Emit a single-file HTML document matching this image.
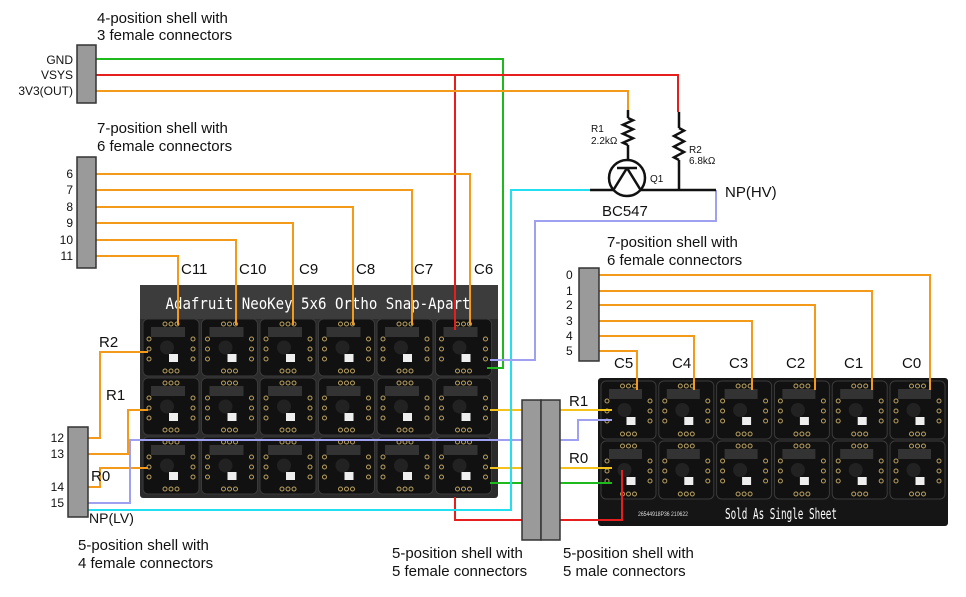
<!DOCTYPE html>
<html><head><meta charset="utf-8"><style>
html,body{margin:0;padding:0;background:#fff;}
svg{display:block;font-family:"Liberation Sans",sans-serif;}
</style></head><body>
<svg id="s" width="966" height="597" viewBox="0 0 966 597" xmlns="http://www.w3.org/2000/svg">
<g id="boards"></g>
<g id="wires" fill="none" stroke-width="2"></g>
<g id="parts"></g>
<g id="labels" font-size="15" fill="#111"></g>
</svg>
<script>
const NS="http://www.w3.org/2000/svg";
function mk(parent,tag,attrs,name,text){const e=document.createElementNS(NS,tag);for(const k in attrs)e.setAttribute(k,attrs[k]);


if(text!==undefined)e.textContent=text;parent.appendChild(e);return e;}
const B=document.getElementById('boards'),W=document.getElementById('wires'),P=document.getElementById('parts'),L=document.getElementById('labels');

// boards
mk(B,'rect',{x:140,y:285,width:358,height:213,fill:'#2b2b2b',rx:3},'left-board');
mk(B,'rect',{x:140,y:285,width:358,height:34,fill:'#3c3c3c'},'left-board-header');
mk(B,'text',{x:318,y:309,'font-size':16,fill:'#fff','text-anchor':'middle','font-family':'DejaVu Sans Mono, monospace',textLength:305,lengthAdjust:'spacingAndGlyphs'},'left-board-title','Adafruit NeoKey 5x6 Ortho Snap-Apart');
mk(B,'rect',{x:598,y:378,width:350,height:148,fill:'#151515',rx:3},'right-board');
mk(B,'text',{x:725,y:519,'font-size':15,fill:'#fff','font-family':'DejaVu Sans Mono, monospace',textLength:112,lengthAdjust:'spacingAndGlyphs'},'right-board-title','Sold As Single Sheet');
mk(B,'text',{x:638,y:516,'font-size':6,fill:'#ddd',textLength:50,lengthAdjust:'spacingAndGlyphs'},'right-board-serial','26544918P36 210622');
function key(x,y,w,h,name){
  const g=mk(B,'g',{},name);
  mk(g,'rect',{x:x,y:y,width:w,height:h,rx:5,fill:'#111',stroke:'#3a3a3a'},name+'-body');
  mk(g,'rect',{x:x+8,y:y+8,width:w-22,height:10,fill:'#333'},name+'-switch');
  mk(g,'circle',{cx:x+w/2-4,cy:y+h/2,r:7,fill:'#222'},name+'-hole');
  mk(g,'rect',{x:x+w/2-2,y:y+h-22,width:9,height:8,fill:'#eee'},name+'-led');
  for(let i=0;i<3;i++){mk(g,'circle',{cx:x+w/2-6+i*6,cy:y+5,r:2,fill:'none',stroke:'#b8a060','stroke-width':1},name+'-pad');
   mk(g,'circle',{cx:x+w/2-6+i*6,cy:y+h-5,r:2,fill:'none',stroke:'#b8a060','stroke-width':1},name+'-pad');}
  for(let i=0;i<3;i++){mk(g,'circle',{cx:x+6,cy:y+20+i*10,r:2,fill:'none',stroke:'#b8a060','stroke-width':1},name+'-pad');
   mk(g,'circle',{cx:x+w-6,cy:y+20+i*10,r:2,fill:'none',stroke:'#b8a060','stroke-width':1},name+'-pad');}
}
for(let r=0;r<3;r++)for(let c=0;c<6;c++)key(143+c*58.5,319+r*59,56,57,'left-key-r'+r+'c'+c);
for(let r=0;r<2;r++)for(let c=0;c<6;c++)key(601+c*57.8,381+r*60,55,58,'right-key-r'+r+'c'+c);

// wires
const wires=[
 ['gnd-wire','#1db91d','M96 59H503V368H487'],
 ['vsys-wire','#e61e1e','M96 75H678V112'],
 ['vsys-drop-wire','#e61e1e','M455 75V330'],
 ['3v3-wire','#f39a1a','M96 91H628V112'],
 ['col6-wire','#f39a1a','M96 174H470V325'],
 ['col7-wire','#f39a1a','M96 190H412V325'],
 ['col8-wire','#f39a1a','M96 207H353V325'],
 ['col9-wire','#f39a1a','M96 223H293V325'],
 ['col10-wire','#f39a1a','M96 240H236V325'],
 ['col11-wire','#f39a1a','M96 256H178V325'],
 ['c0-wire','#f39a1a','M599 275H930V390'],
 ['c1-wire','#f39a1a','M599 291H872V390'],
 ['c2-wire','#f39a1a','M599 305H815V390'],
 ['c3-wire','#f39a1a','M599 321H752V390'],
 ['c4-wire','#f39a1a','M599 336H694V390'],
 ['c5-wire','#f39a1a','M599 351H637V390'],
 ['r2-wire','#f39a1a','M88 438H100V352H148'],
 ['r1-wire','#f39a1a','M88 454H128V410H148'],
 ['r0-wire','#f39a1a','M88 487H100V468H148'],
 ['lv-data-wire','#a0a0f0','M88 503H130V440H522'],
 ['lv-data-wire-2','#a0a0f0','M560 440H578V420H612'],
 ['r1-link-left','#f5c21a','M490 410H522'],
 ['r1-link-right','#f5c21a','M560 410H612'],
 ['r0-link-left','#f5c21a','M490 468H522'],
 ['r0-link-right','#f5c21a','M560 468H612'],
 ['gnd-link-left','#1db91d','M490 483H522'],
 ['gnd-link-right','#1db91d','M560 483H612'],
 ['vsys-link-left','#e61e1e','M455 497V520H522'],
 ['vsys-link-right','#e61e1e','M560 520H622V470'],
 ['np-lv-wire','#22e0f0','M88 510H511V190H590'],
 ['np-hv-wire','#a0a0f0','M716 190V221H535V360H490'],
];
wires.forEach(w=>mk(W,'path',{d:w[2],stroke:w[1]},w[0]));

// connectors
function shell(x,y,w,h,name){mk(P,'rect',{x:x,y:y,width:w,height:h,fill:'#9a9a9a',stroke:'#333','stroke-width':1.5},name);}
shell(77,45,19,58,'power-shell');
shell(77,157,19,111,'left-col-shell');
shell(579,268,20,93,'right-col-shell');
shell(68,427,20,90,'row-shell');
shell(522,400,19,140,'mid-female-shell');
shell(541,400,19,140,'mid-male-shell');

// transistor + resistors
function zig(x,y1,y2,name){let d='M'+x+' '+y1;const n=6,st=(y2-y1)/n;for(let i=0;i<n;i++)d+=' L'+(x+(i%2?-5:5))+' '+(y1+st*(i+0.5));d+=' L'+x+' '+y2;
 mk(P,'path',{d:d,fill:'none',stroke:'#111','stroke-width':2.5},name);}
mk(P,'path',{d:'M628 110V118',stroke:'#111','stroke-width':2.5},'r1-lead');
zig(628,118,145,'r1-resistor');
mk(P,'path',{d:'M628 145V168',stroke:'#111','stroke-width':2.5},'r1-lead-2');
zig(679,128,160,'r2-resistor');
mk(P,'path',{d:'M679 112V128M679 160V190',stroke:'#111','stroke-width':2.5},'r2-leads');
mk(P,'circle',{cx:627,cy:178,r:18,fill:'#fff',stroke:'#111','stroke-width':2.5},'q1-transistor');
mk(P,'path',{d:'M617 168H637M627 168L614 189M627 168L640 189M590 190H614M640 190H716',stroke:'#111','stroke-width':2.5,fill:'none'},'q1-leads');

// labels
const T=[
 ['gnd-label',73,64,'GND','end',12],['vsys-label',73,79,'VSYS','end',12],['3v3-label',73,95,'3V3(OUT)','end',12],
 ['pin6',73,178,'6','end',12],['pin7',73,194,'7','end',12],['pin8',73,211,'8','end',12],['pin9',73,227,'9','end',12],['pin10',73,244,'10','end',12],['pin11',73,260,'11','end',12],
 ['pin0',566,279,'0','start',12],['pin1',566,295,'1','start',12],['pin2',566,309,'2','start',12],['pin3',566,325,'3','start',12],['pin4',566,340,'4','start',12],['pin5',566,355,'5','start',12],
 ['pin12',64,442,'12','end',12],['pin13',64,458,'13','end',12],['pin14',64,491,'14','end',12],['pin15',64,507,'15','end',12],
 ['c11-label',181,274,'C11','start',15],['c10-label',239,274,'C10','start',15],['c9-label',299,274,'C9','start',15],['c8-label',356,274,'C8','start',15],['c7-label',414,274,'C7','start',15],['c6-label',474,274,'C6','start',15],
 ['c5-label',614,368,'C5','start',15],['c4-label',672,368,'C4','start',15],['c3-label',729,368,'C3','start',15],['c2-label',786,368,'C2','start',15],['c1-label',844,368,'C1','start',15],['c0-label',902,368,'C0','start',15],
 ['r2-label',99,347,'R2','start',15],['r1-label',106,400,'R1','start',15],['r0-label',91,481,'R0','start',15],
 ['r1-mid-label',569,406,'R1','start',15],['r0-mid-label',569,463,'R0','start',15],
 ['np-lv-label',89,523,'NP(LV)','start',14],['np-hv-label',725,197,'NP(HV)','start',15],
 ['bc547-label',602,216,'BC547','start',15],['q1-label',650,182,'Q1','start',10],
 ['r1-name',591,132,'R1','start',10],['r1-value',591,144,'2.2kΩ','start',10],['r2-name',689,153,'R2','start',10],['r2-value',689,164,'6.8kΩ','start',10],
 ['power-shell-title-1',97,23,'4-position shell with','start',15],['power-shell-title-2',97,40,'3 female connectors','start',15],
 ['col-shell-title-1',97,133,'7-position shell with','start',15],['col-shell-title-2',97,151,'6 female connectors','start',15],
 ['right-shell-title-1',607,247,'7-position shell with','start',15],['right-shell-title-2',607,265,'6 female connectors','start',15],
 ['row-shell-title-1',78,550,'5-position shell with','start',15],['row-shell-title-2',78,568,'4 female connectors','start',15],
 ['mid-female-title-1',392,558,'5-position shell with','start',15],['mid-female-title-2',392,576,'5 female connectors','start',15],
 ['mid-male-title-1',563,558,'5-position shell with','start',15],['mid-male-title-2',563,576,'5 male connectors','start',15],
];
T.forEach(t=>mk(L,'text',{x:t[1],y:t[2],'text-anchor':t[4],'font-size':t[5]},t[0],t[3]));
</script>
</body></html>
